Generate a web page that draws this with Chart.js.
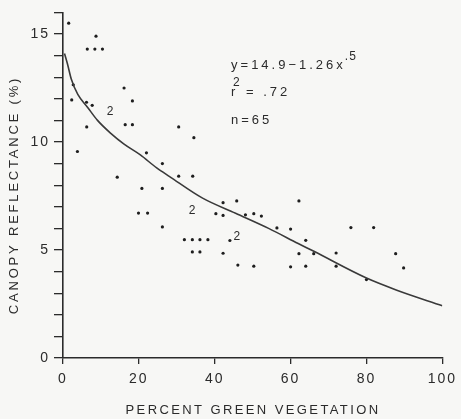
<!DOCTYPE html>
<html lang="en">
<head>
<meta charset="UTF-8">
<title>Canopy reflectance vs percent green vegetation</title>
<script src="https://cdn.jsdelivr.net/npm/chart.js"></script>
<style>
  html, body { margin: 0; padding: 0; background: #f7f7f5; }
  #wrap { width: 461px; height: 419px; position: relative; }
</style>
</head>
<body>
<div id="wrap"><canvas id="chart"></canvas></div>
<script>
const greenPct = [
  1.5, 8.7, 6.4, 8.4, 10.4, 2.7, 2.3, 6.2, 7.7, 6.25,
  16.1, 18.3, 16.4, 18.3, 30.5, 34.5, 3.8, 14.3, 22.0, 26.2,
  30.5, 34.2, 20.8, 26.2, 19.9, 22.3, 26.2, 32.0, 34.1, 36.1,
  38.2, 34.1, 36.1, 40.3, 42.2, 42.2, 45.8, 44.0, 42.2, 46.1,
  48.1, 50.3, 52.3, 56.4, 60.0, 62.2, 64.0, 62.2, 66.1, 72.0,
  50.3, 60.0, 64.0, 72.0, 75.9, 81.9, 87.7, 89.8, 80.0
];
const reflectance = [
  15.5, 14.9, 14.3, 14.3, 14.3, 12.65, 11.95, 11.84, 11.7, 10.7,
  12.5, 11.9, 10.8, 10.8, 10.7, 10.2, 9.56, 8.37, 9.5, 9.0,
  8.42, 8.42, 7.85, 7.85, 6.71, 6.71, 6.07, 5.48, 5.48, 5.48,
  5.48, 4.91, 4.91, 6.68, 6.6, 7.19, 7.27, 5.44, 4.85, 4.3,
  6.63, 6.68, 6.57, 6.02, 5.97, 7.27, 5.45, 4.83, 4.83, 4.86,
  4.25, 4.22, 4.25, 4.25, 6.04, 6.04, 4.83, 4.17, 3.63
];

// spots marked "2" (two observations)
const doubleX = [12.4, 34.0, 45.8];
const doubleY = [11.4, 6.8, 5.6];

// fitted curve
const fitX = [0.4, 1.2, 2.2, 3.9, 6.5, 9.1, 12.6, 16.1, 20.4, 24.7, 28.1, 36.8, 45.5, 54.2, 62, 66, 80, 88, 100];
const fitY = [14.1, 13.6, 12.9, 12.2, 11.6, 11.0, 10.4, 9.9, 9.4, 8.8, 8.4, 7.4, 6.7, 6.0, 5.3, 4.95, 3.7, 3.14, 2.42];

const xLabel = "PERCENT GREEN VEGETATION";
const yLabel = "CANOPY REFLECTANCE (%)";

const ink = "#2b2b2b";
const fontFam = "'Liberation Sans', Arial, sans-serif";

const dots = greenPct.map((x, i) => ({ x: x, y: reflectance[i] }));
const curve = fitX.map((x, i) => ({ x: x, y: fitY[i] }));

// extra text: axis titles, "2" marks and the equation box
const textPlugin = {
  id: "textPlugin",
  beforeDraw(chart) {
    chart.ctx.letterSpacing = "2px";
  },
  afterDraw(chart) {
    const ctx = chart.ctx;
    const sx = chart.scales.x, sy = chart.scales.y;
    ctx.save();
    ctx.fillStyle = ink;

    // "2" marks
    ctx.font = "12px " + fontFam;
    ctx.letterSpacing = "0px";
    ctx.textAlign = "center";
    ctx.textBaseline = "middle";
    for (let i = 0; i < doubleX.length; i++) {
      ctx.fillText("2", sx.getPixelForValue(doubleX[i]), sy.getPixelForValue(doubleY[i]));
    }

    // equation
    ctx.textAlign = "left";
    ctx.textBaseline = "alphabetic";
    ctx.font = "13px " + fontFam;
    ctx.letterSpacing = "3px";
    const ex = sx.getPixelForValue(44.3);
    const eq = "y=14.9\u22121.26x";
    ctx.fillText(eq, ex, sy.getPixelForValue(13.4));
    const eqW = ctx.measureText(eq).width;
    ctx.fillText("r", ex, sy.getPixelForValue(12.15));
    ctx.fillText("= .72", ex + 15, sy.getPixelForValue(12.15));
    ctx.fillText("n=65", ex, sy.getPixelForValue(10.85));
    ctx.font = "12px " + fontFam;
    ctx.letterSpacing = "1px";
    ctx.fillText(".5", ex + eqW - 1, sy.getPixelForValue(13.8));
    ctx.fillText("2", ex + 2, sy.getPixelForValue(12.6));

    // x title
    ctx.font = "13px " + fontFam;
    ctx.letterSpacing = "2.4px";
    ctx.textAlign = "center";
    ctx.textBaseline = "middle";
    ctx.fillText(xLabel, 253, 410);

    // y title
    ctx.letterSpacing = "2.8px";
    ctx.translate(14, 195);
    ctx.rotate(-Math.PI / 2);
    ctx.fillText(yLabel, 0, 0);
    ctx.restore();
  }
};

new Chart(document.getElementById("chart"), {
  type: "scatter",
  data: {
    datasets: [
      {
        type: "line",
        data: curve,
        borderColor: "#3a3a3a",
        borderWidth: 1.6,
        pointRadius: 0,
        fill: false,
        cubicInterpolationMode: "monotone"
      },
      {
        data: dots,
        backgroundColor: "#1e1e1e",
        borderColor: "#1e1e1e",
        pointRadius: 1.6,
        borderWidth: 0
      }
    ]
  },
  options: {
    responsive: true,
    maintainAspectRatio: false,
    animation: false,
    layout: { padding: { left: 0, right: 15, top: 12, bottom: 0 } },
    plugins: {
      legend: { display: false },
      tooltip: { enabled: false }
    },
    scales: {
      x: {
        type: "linear",
        min: 0,
        max: 100,
        afterFit: (s) => { s.height = 61; },
        ticks: { stepSize: 20, color: ink, padding: 7, font: { size: 14, family: fontFam }, maxRotation: 0 },
        grid: { drawOnChartArea: false, drawTicks: true, tickLength: 6, color: ink, lineWidth: 1.3 },
        border: { display: true, color: ink, width: 1.6 }
      },
      y: {
        type: "linear",
        min: 0,
        max: 16,
        afterFit: (s) => { s.width = 63; },
        ticks: {
          stepSize: 1,
          color: ink,
          padding: 4,
          font: { size: 14, family: fontFam },
          callback: (v) => (v % 5 === 0 ? v : "")
        },
        grid: { drawOnChartArea: false, drawTicks: true, tickLength: 9, color: ink, lineWidth: 1.3 },
        border: { display: true, color: ink, width: 1.6 }
      }
    }
  },
  plugins: [textPlugin]
});
</script>
</body>
</html>
